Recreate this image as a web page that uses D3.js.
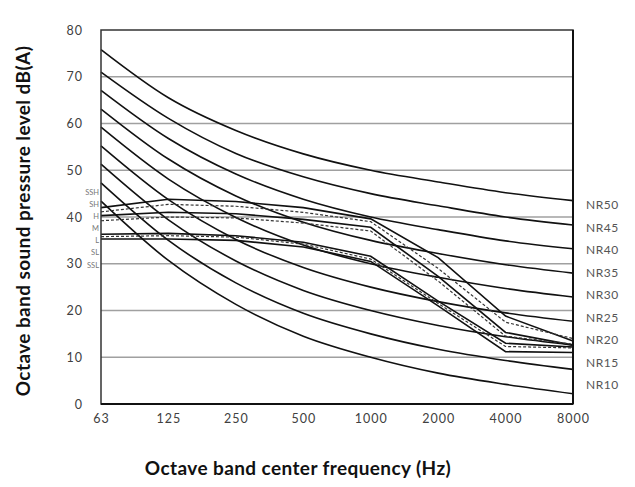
<!DOCTYPE html>
<html>
<head>
<meta charset="utf-8">
<script src="https://cdn.jsdelivr.net/npm/d3@7"></script>
<style>
  body { margin: 0; background: #fff; }
  text { font-family: Lato, "Liberation Sans", sans-serif; }
</style>
</head>
<body>
<script>
// octave band centre frequencies (x categories)
const freqs = ["63", "125", "250", "500", "1000", "2000", "4000", "8000"];
const yTicks = [0, 10, 20, 30, 40, 50, 60, 70, 80];

// NR reference curves
const nrNames = ["NR50", "NR45", "NR40", "NR35", "NR30", "NR25", "NR20", "NR15", "NR10"];
const nr50 = [75.8, 65.5, 58.5, 53.5, 50, 47.5, 45.2, 43.5];
const nr45 = [71, 61.1, 53.6, 48.6, 45, 42.4, 40, 38.3];
const nr40 = [67.1, 56.8, 49.2, 43.8, 40, 37.3, 34.9, 33.2];
const nr35 = [63.1, 52.4, 44.5, 38.9, 35, 32.2, 29.8, 28];
const nr30 = [59.2, 48.1, 39.9, 34, 30, 27.1, 24.7, 22.9];
const nr25 = [55.2, 43.7, 35.2, 29.2, 25, 21.9, 19.5, 17.7];
const nr20 = [51.3, 39.4, 30.6, 24.3, 20, 16.8, 14.4, 12.6];
const nr15 = [47.3, 35, 25.9, 19.4, 15, 11.7, 9.3, 7.4];
const nr10 = [43.4, 30.7, 21.3, 14.5, 10, 6.6, 4.2, 2.2];

// fan speed curves
const fanNames = ["SSH", "SH", "H", "M", "L", "SL", "SSL"];
const ssh = [42.0, 43.8, 43.3, 42.0, 39.6, 31.3, 18.8, 13.5];
const sh  = [41.1, 42.7, 42.3, 41.0, 39.0, 29.0, 17.5, 14.0];
const h   = [40.3, 41.0, 40.7, 39.5, 37.8, 27.3, 15.3, 12.6];
const m   = [39.2, 40.0, 39.8, 38.7, 37.0, 26.3, 14.5, 12.8];
const l   = [36.3, 36.5, 36.0, 34.6, 31.6, 22.0, 13.0, 12.2];
const sl  = [35.8, 36.0, 35.7, 34.2, 31.0, 21.5, 12.3, 12.0];
const ssl = [35.3, 35.3, 35.0, 33.6, 30.5, 21.0, 11.2, 11.0];
const fanDashed = [false, true, false, true, false, true, false];

const nrSeries = [nr50, nr45, nr40, nr35, nr30, nr25, nr20, nr15, nr10];
const fanSeries = [ssh, sh, h, m, l, sl, ssl];

const W = 635, H = 487;
const margin = {top: 30, right: 62, bottom: 83, left: 101};

const svg = d3.select("body").append("svg")
  .attr("width", W).attr("height", H);

const x = d3.scalePoint().domain(freqs).range([margin.left, W - margin.right]);
const y = d3.scaleLinear().domain([0, 80]).range([H - margin.bottom, margin.top]);

// grid
svg.append("g").selectAll("line")
  .data(yTicks.filter(t => t > 0 && t < 80))
  .join("line")
  .attr("x1", margin.left).attr("x2", W - margin.right)
  .attr("y1", d => y(d)).attr("y2", d => y(d))
  .attr("stroke", "#a0a0a0").attr("stroke-width", 1.3);

// y axis labels
const yAxis = svg.append("g")
  .attr("transform", `translate(${margin.left - 18},0)`)
  .call(d3.axisLeft(y).tickValues(yTicks).tickSize(0).tickPadding(0));
yAxis.select(".domain").remove();
yAxis.selectAll("text")
  .attr("font-family", "Lato, sans-serif").attr("font-size", 12.5)
  .attr("letter-spacing", 1)
  .attr("fill", "#404040");

// x axis labels
const xAxis = svg.append("g")
  .attr("transform", `translate(0,${H - margin.bottom + 10})`)
  .call(d3.axisBottom(x).tickSize(0).tickPadding(0));
xAxis.select(".domain").remove();
xAxis.selectAll("text")
  .attr("font-family", "Lato, sans-serif").attr("font-size", 12.5)
  .attr("letter-spacing", 1)
  .attr("fill", "#404040");

const smooth = d3.line()
  .x((d, i) => x(freqs[i])).y(d => y(d))
  .curve(d3.curveCatmullRom.alpha(0));
const straight = d3.line()
  .x((d, i) => x(freqs[i])).y(d => y(d));

// NR curves
svg.append("g").selectAll("path")
  .data(nrSeries)
  .join("path")
  .attr("d", smooth)
  .attr("fill", "none").attr("stroke", "#111").attr("stroke-width", 1.6);

// fan curves
svg.append("g").selectAll("path")
  .data(fanSeries)
  .join("path")
  .attr("d", straight)
  .attr("fill", "none")
  .attr("stroke", (d, i) => fanDashed[i] ? "#333" : "#111")
  .attr("stroke-width", (d, i) => fanDashed[i] ? 1.2 : 1.6)
  .attr("stroke-dasharray", (d, i) => fanDashed[i] ? "3,2" : null);

// frame
svg.append("rect")
  .attr("x", margin.left).attr("y", margin.top)
  .attr("width", W - margin.right - margin.left)
  .attr("height", H - margin.bottom - margin.top)
  .attr("fill", "none").attr("stroke", "#333").attr("stroke-width", 1.5);
svg.append("line")
  .attr("x1", W - margin.right).attr("x2", W - margin.right)
  .attr("y1", margin.top).attr("y2", H - margin.bottom)
  .attr("stroke", "#111").attr("stroke-width", 2);
svg.append("line")
  .attr("x1", margin.left).attr("x2", W - margin.right)
  .attr("y1", H - margin.bottom).attr("y2", H - margin.bottom)
  .attr("stroke", "#111").attr("stroke-width", 2);

// NR labels on the right
const nrLabelY = d3.scalePoint().domain(nrNames).range([205, 385]);
svg.append("g").selectAll("text")
  .data(nrNames)
  .join("text")
  .attr("x", W - margin.right + 13)
  .attr("y", d => nrLabelY(d))
  .attr("dy", "0.35em")
  .attr("font-size", 12).attr("letter-spacing", 0.5)
  .attr("fill", "#555")
  .text(d => d);

// fan labels on the left
const fanLabelY = d3.scalePoint().domain(fanNames).range([192, 265]);
svg.append("g").selectAll("text")
  .data(fanNames)
  .join("text")
  .attr("x", margin.left - 2)
  .attr("y", d => fanLabelY(d))
  .attr("dy", "0.35em")
  .attr("text-anchor", "end")
  .attr("font-size", 7.5)
  .attr("fill", "#777")
  .text(d => d);

// axis titles
svg.append("text")
  .attr("x", 298).attr("y", 475)
  .attr("text-anchor", "middle")
  .attr("font-family", "Lato, sans-serif")
  .attr("font-weight", "bold").attr("font-size", 19)
  .attr("letter-spacing", 0.4)
  .attr("fill", "#111")
  .text("Octave band center frequency (Hz)");

svg.append("text")
  .attr("transform", "translate(30,221) rotate(-90)")
  .attr("text-anchor", "middle")
  .attr("font-family", "Lato, sans-serif")
  .attr("font-weight", "bold").attr("font-size", 19)
  .attr("letter-spacing", 0.4)
  .attr("fill", "#111")
  .text("Octave band sound pressure level dB(A)");
</script>
</body>
</html>
